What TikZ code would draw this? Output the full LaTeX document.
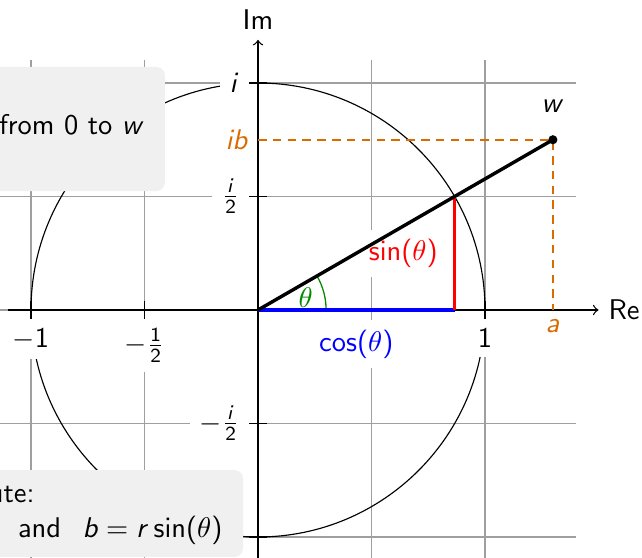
\documentclass[tikz,border=0pt]{standalone}
\renewcommand{\familydefault}{\sfdefault}
\SetSymbolFont{operators}{normal}{OT1}{cmss}{m}{n}
\DeclareMathAlphabet{\mathsfit}{OT1}{cmss}{m}{sl}
\definecolor{myorange}{rgb}{0.85,0.42,0}
\definecolor{boxgray}{gray}{0.94}
\definecolor{mygreen}{rgb}{0,0.55,0}
\tikzset{
  gridline/.style={gray!75, line width=0.4pt},
  axisline/.style={black, line width=0.45pt},
  lbl/.style={fill=white},
  infobox/.style={fill=boxgray, draw=none, rounded corners=3pt},
  boxtext/.style={anchor=base east, inner sep=0pt},
  vec/.style={very thick, line cap=round},
}
\begin{document}
\begin{tikzpicture}[x=2.8cm,y=2.8cm]
\clip (-1.1366,-1.0925) rectangle (1.6916,1.3656);
% grid and circle
\draw[gridline, step=0.5] (-1.4,-1.4) grid (1.4,1.1);
\draw[line width=0.4pt] (0,0) circle[radius=1];
% axes
\coordinate (xl) at (-1.1,0);
\coordinate (xr) at (1.5,0);
\coordinate (yb) at (0,-1.2);
\coordinate (yt) at (0,1.19);
\draw[axisline,->] (xl) -- (xr);
\draw[axisline,->] (yb) -- (yt);
\node[right] (re) at (xr) {Re};
\node[above] (im) at (yt) {Im};
% ticks
\draw[axisline] (-1,3pt) -- (-1,-3pt) node[below,lbl] (lm1) {$-1$};
\draw[axisline] (-0.5,3pt) -- (-0.5,-3pt) node[below,lbl] (lmh) {$-\frac{1}{2}$};
\draw[axisline] (1,3pt) -- (1,-3pt) node[below,lbl] (lp1) {$1$};
\draw[axisline] (3pt,1) -- (-3pt,1) node[left,lbl] (li) {$\mathsfit{i}$};
\draw[axisline] (3pt,0.5) -- (-3pt,0.5) node[left,lbl] (lih) {$\frac{\mathsfit{i}}{2}$};
\draw[axisline] (3pt,-0.5) -- (-3pt,-0.5) node[left,lbl] (lmih) {$-\frac{\mathsfit{i}}{2}$};
\draw[axisline] (3pt,-1) -- (-3pt,-1);
% points
\coordinate (o) at (0,0);
\coordinate (w) at (1.299,0.75);
\coordinate (c) at (0.866,0);
\coordinate (s) at (0.866,0.5);
\coordinate (ibc) at (0,0.75);
\coordinate (ac) at (1.299,0);
% projections
\draw[myorange, line width=0.6pt, dash pattern=on 3pt off 2.2pt] (ibc) -- (w) -- (ac);
\node[left, text=myorange] (ib) at (ibc) {$\mathsfit{ib}$};
\node[below, text=myorange] (a) at (ac) {$\mathsfit{a}$};
% angle
\draw[mygreen, line width=0.45pt] (0.3,0) arc[start angle=0, end angle=30, radius=0.3];
\node[text=mygreen] (th) at (0.21,0.053) {$\theta$};
% cos and sin
\draw[vec, blue, line cap=butt] (o) -- (c) node[midway, below=3pt, lbl] (cl) {$\cos(\theta)$};
\draw[vec, red, line cap=butt] (c) -- (s) node[midway, left=2pt, lbl] (sl) {$\sin(\theta)$};
% vector
\draw[vec] (o) -- (w);
\fill (w) circle[radius=1.6pt];
\node[above=6pt] (wl) at (w) {$\mathsfit{w}$};
% boxes
\path[infobox] (-1.6,0.524) rectangle (-0.41,1.0705);
\node[boxtext] (t1) at (-0.498,0.771) {from 0 to $\mathsfit{w}$};
\path[infobox] (-1.6,-1.088) rectangle (-0.066,-0.705);
\node[boxtext] (t2) at (-0.982,-0.850) {ute:};
\node[boxtext] (t3) at (-0.154,-1.004) {and\hspace{0.75em}$\mathsfit{b} = \mathsfit{r}\sin(\theta)$};
\end{tikzpicture}
\end{document}
